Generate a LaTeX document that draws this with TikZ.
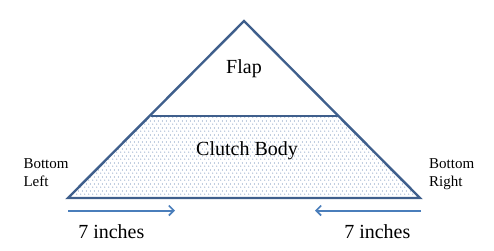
\documentclass[tikz,border=0pt]{standalone}
\usepackage{fontspec}
\setmainfont{Liberation Serif}
\usetikzlibrary{arrows.meta,patterns.meta}
\definecolor{edge}{HTML}{3F5F8C}
\definecolor{arrowblue}{HTML}{4A7EBB}
\definecolor{dotblue}{HTML}{4F74A8}
\pgfdeclarepattern{
  name=stagdots,
  type=uncolored,
  bottom left={\pgfpoint{0pt}{0pt}},
  top right={\pgfpoint{4pt}{7pt}},
  tile size={\pgfpoint{4pt}{7pt}},
  code={
    \pgfpathcircle{\pgfpoint{1pt}{1pt}}{0.6pt}
    \pgfpathcircle{\pgfpoint{3pt}{4.5pt}}{0.6pt}
    \pgfusepath{fill}
  }
}
\tikzset{
  shape line/.style={draw=edge, line width=2.4pt, line join=miter},
  body fill/.style={pattern=stagdots, pattern color=dotblue},
  dim arrow/.style={draw=arrowblue, line width=2pt, -{Straight Barb[length=5pt,width=10pt,line width=1.6pt]}},
  big label/.style={font=\fontsize{20}{24}\selectfont, anchor=base, inner sep=0pt},
  corner label/.style={font=\fontsize{15}{18}\selectfont, align=left, anchor=north west, inner sep=0pt},
}
\begin{document}
\begin{tikzpicture}[x=1pt,y=-1pt]
\useasboundingbox (0,0) rectangle (494,250);
% key points
\coordinate (apex) at (244,21);
\coordinate (bl) at (68,198);
\coordinate (br) at (420,198);
\coordinate (tl) at (150.5,116);
\coordinate (tr) at (337.5,116);
% clutch body fill
\fill[body fill] (tl) -- (tr) -- (br) -- (bl) -- cycle;
% outlines
\draw[shape line] (bl) -- (apex) -- (br) -- cycle;
\draw[shape line] (tl) -- (tr);
% arrows
\coordinate (la1) at (68,210.5);
\coordinate (la2) at (175,210.5);
\coordinate (ra1) at (421,210.5);
\coordinate (ra2) at (315,210.5);
\draw[dim arrow] (la1) -- (la2);
\draw[dim arrow] (ra1) -- (ra2);
% labels
\node[big label] (flap) at (244,73.3) {Flap};
\node[big label] (body) at (247,155.7) {Clutch Body};
\node[big label] (dl) at (111.3,238.3) {7 inches};
\node[big label] (dr) at (377.3,238.3) {7 inches};
\node[corner label] (bleft) at (23.3,158) {Bottom\\Left};
\node[corner label] (bright) at (429,158) {Bottom\\Right};
\end{tikzpicture}
\end{document}
